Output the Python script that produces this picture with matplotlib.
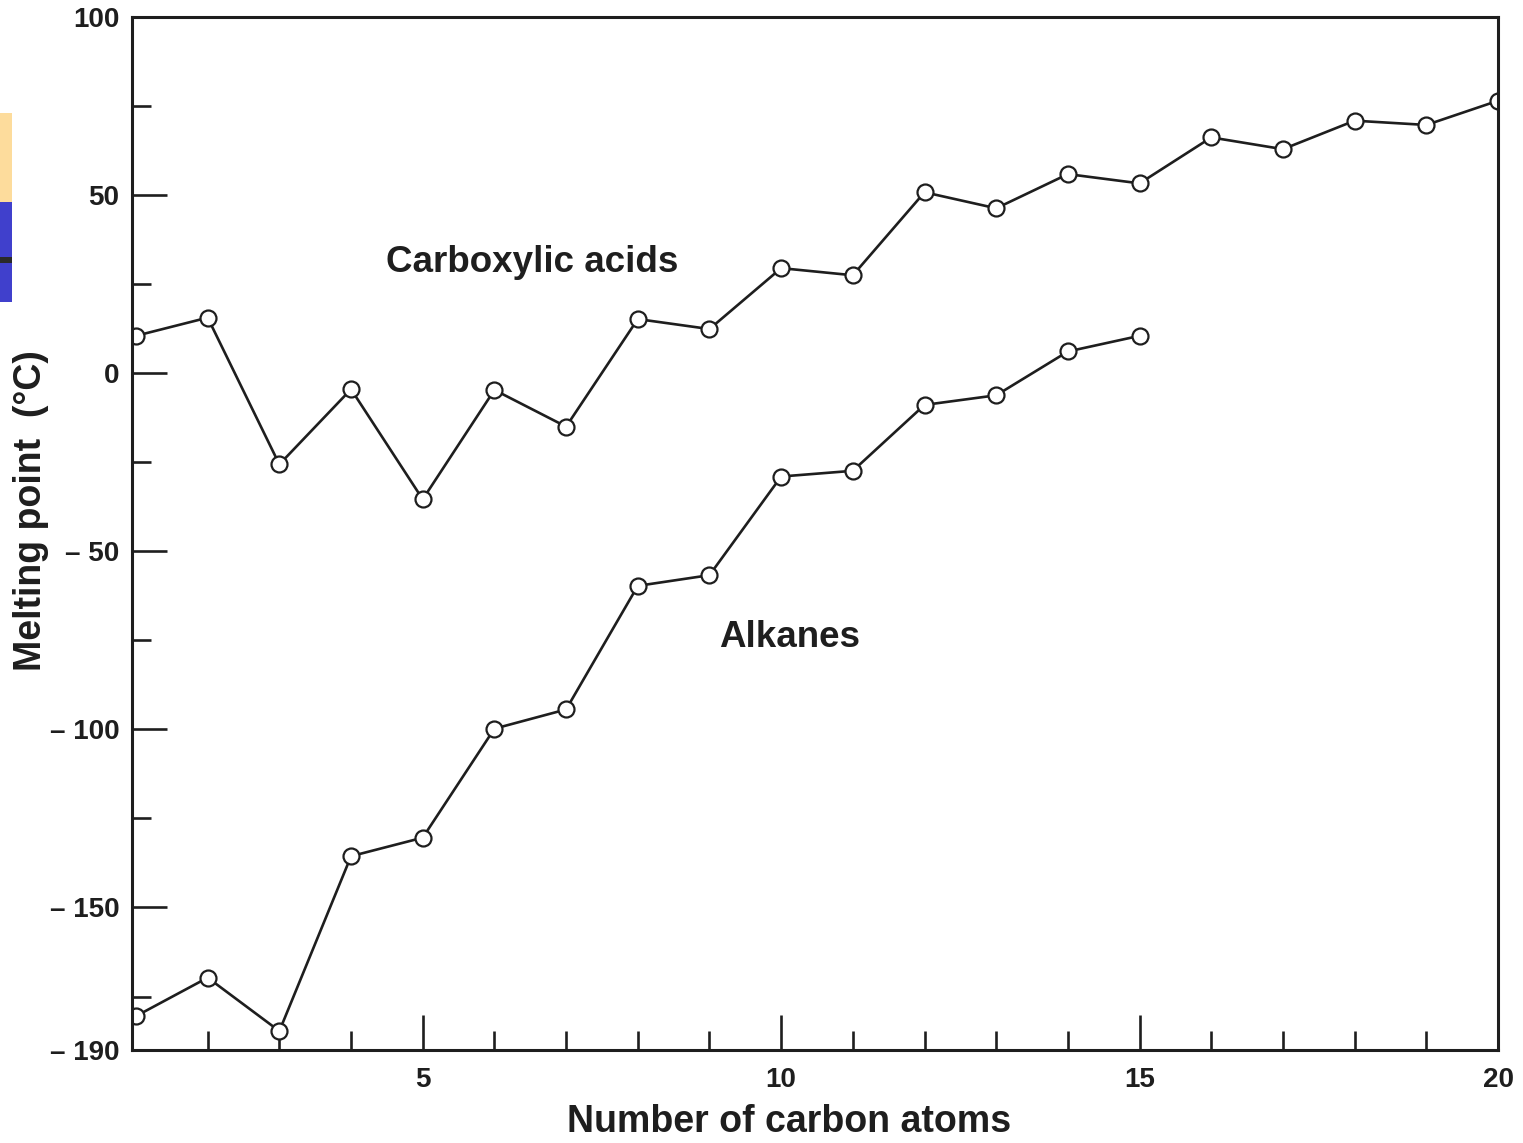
import numpy as np
import matplotlib.pyplot as plt
from matplotlib.patches import Rectangle

plt.rcParams['font.family'] = ['Liberation Sans', 'DejaVu Sans']

# melting points
carbons_acid = list(range(1, 21))
mp_acid = [10.5, 15.6, -25.6, -4.5, -35.4, -4.7, -15.0, 15.2, 12.4, 29.5,
           27.5, 50.8, 46.3, 55.9, 53.3, 66.2, 62.9, 70.9, 69.7, 76.5]

carbons_alkane = list(range(1, 16))
mp_alkane = [-180.5, -169.7, -184.7, -135.6, -130.4, -99.8, -94.4, -59.7,
             -56.7, -29.0, -27.4, -8.9, -6.2, 6.1, 10.5]

y_major = [100, 50, 0, -50, -100, -150, -190]
y_major_labels = ['100', '50', '0', '\u2013 50', '\u2013 100', '\u2013 150', '\u2013 190']
y_minor = [75, 25, -25, -75, -125, -175]
x_major = [5, 10, 15, 20]
x_minor = [2, 3, 4, 6, 7, 8, 9, 11, 12, 13, 14, 16, 17, 18, 19]

ink = '#1e1e1e'

fig = plt.figure(figsize=(15.23, 11.43), dpi=100)
ax = fig.add_axes([0.0867, 0.0814, 0.8969, 0.9037])

line_kw = dict(color=ink, lw=1.9, marker='o', markersize=11.5,
               markerfacecolor='white', markeredgecolor=ink, markeredgewidth=1.6)
ax.plot(carbons_acid, mp_acid, **line_kw)
ax.plot(carbons_alkane, mp_alkane, **line_kw)

ax.set_xlim(0.945, 19.95)
ax.set_ylim(-190, 100)

ax.set_yticks(y_major)
ax.set_yticklabels(y_major_labels)
ax.set_yticks(y_minor, minor=True)
ax.set_xticks(x_major)
ax.set_xticks(x_minor, minor=True)

ax.tick_params(which='major', direction='in', length=25, width=1.9, color=ink,
               labelsize=20, labelcolor=ink, pad=9)
ax.tick_params(which='minor', direction='in', length=14, width=1.9, color=ink)
ax.tick_params(axis='x', which='major', pad=12)
for lbl in ax.get_xticklabels() + ax.get_yticklabels():
    lbl.set_fontweight('bold')

for s in ax.spines.values():
    s.set_linewidth(2.2)
    s.set_color(ink)

ax.text(6.52, 28.4, 'Carboxylic acids', ha='center', va='baseline',
        fontsize=26.5, fontweight='bold', color=ink)
ax.text(10.12, -77, 'Alkanes', ha='center', va='baseline',
        fontsize=26.5, fontweight='bold', color=ink)

ax.set_xlabel('Number of carbon atoms', fontsize=27, fontweight='bold', color=ink, labelpad=10)
ax.set_ylabel('Melting point  (\u00b0C)', fontsize=27, fontweight='bold', color=ink, labelpad=1)
ax.xaxis.set_label_coords(0.481, -0.052)
ax.yaxis.label.set_y(0.522)

# slide edge remnants on the left
W, H = 1523, 1143
fig.patches.append(Rectangle((0, 1 - 202 / H), 12 / W, 89 / H, transform=fig.transFigure,
                             facecolor='#fddc9c', edgecolor='none'))
fig.patches.append(Rectangle((0, 1 - 302 / H), 12 / W, 100 / H, transform=fig.transFigure,
                             facecolor='#4040cc', edgecolor='none'))
fig.patches.append(Rectangle((0, 1 - 263 / H), 12 / W, 6 / H, transform=fig.transFigure,
                             facecolor='#2a2a2a', edgecolor='none'))

fig.savefig('out.png', dpi=100)
